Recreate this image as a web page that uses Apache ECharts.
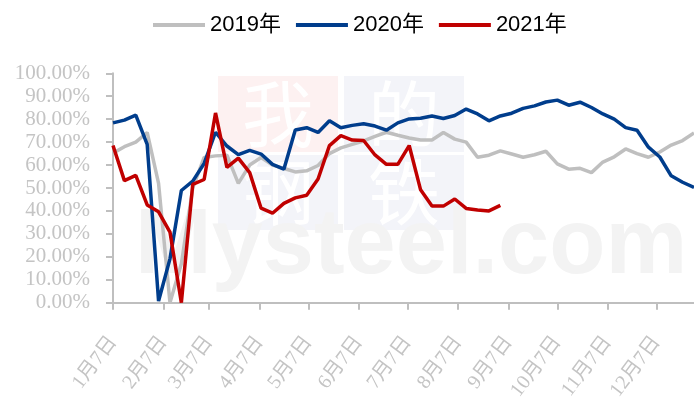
<!DOCTYPE html>
<html>
<head>
<meta charset="utf-8">
<script src="https://cdn.jsdelivr.net/npm/echarts@6/dist/echarts.min.js"></script>
<style>html,body{margin:0;padding:0;background:#fff}#c{width:694px;height:403px}</style>
</head>
<body>
<div id="c"></div>
<script>
const seriesNames = ['2019年', '2020年', '2021年'];
const tickLabels = ['1月7日','2月7日','3月7日','4月7日','5月7日','6月7日','7月7日','8月7日','9月7日','10月7日','11月7日','12月7日'];
const yTicks = [0,10,20,30,40,50,60,70,80,90,100];
// weekly values (%), first week = 1月7日
const rate2019 = [65.2,68,70,74.2,52,0,17,50,63.3,64,64.3,52,60,63.3,60,58.5,57,57.5,59.8,65,67.5,69,70.5,72.5,74.3,73,71.8,70.9,70.9,74.2,71.3,70,63.4,64.3,66.2,64.8,63.4,64.5,66,60.5,58.2,58.6,56.7,61.3,63.6,67,65,63.4,65.7,68.7,70.7,74];
const rate2020 = [78.4,79.6,81.8,69,0.7,19.1,48.9,53,60.7,74.3,68.3,64.5,66.4,64.8,60.3,58.2,75.3,76.3,74.2,79.3,76.3,77.3,78,77,75.2,78.4,80.1,80.4,81.4,80.3,81.6,84.4,82.3,79.3,81.4,82.6,84.7,85.8,87.5,88.3,86.1,87.4,85.1,82.3,80,76.3,75.2,67.8,63.5,55.3,52.5,50.2];
const rate2021 = [68.5,53.2,55.5,42.6,39.6,30.8,0,51.6,53.7,82.7,59,63,56.7,41.2,39,43.3,45.7,46.8,53.9,68.5,72.8,70.9,70.7,64.4,60.3,60.3,68.5,49.2,42.1,42.1,45.2,41.1,40.4,40,42.4];
const colors = ['#bfbfbf', '#003d8c', '#c00000'];

// daily category axis starting 1月7日
const days = [];
const start = new Date(2019, 0, 7);
for (let i = 0; i <= 357; i++) {
  const d = new Date(start.getTime() + i * 86400000);
  days.push((d.getMonth() + 1) + '月' + d.getDate() + '日');
}
const weekly = arr => arr.map((v, k) => [days[k * 7], v]);
const isTick = (idx, val) => tickLabels.indexOf(val) >= 0 && idx < 340;

const chart = echarts.init(document.getElementById('c'));
chart.setOption({
  animation: false,
  backgroundColor: '#fff',
  color: colors,
  grid: { left: 113, right: -6, top: 73.3, bottom: 94.7, containLabel: false },
  legend: {
    left: 148, top: 9,
    itemWidth: 52, itemHeight: 4, itemGap: 15,
    textStyle: { fontSize: 22, color: '#000', fontFamily: 'Liberation Sans, Noto Sans CJK SC' },
    data: seriesNames.map(n => ({ name: n, icon: 'rect' }))
  },
  graphic: [
    { type: 'rect', z: -10, shape: { x: 218, y: 76, width: 120, height: 76 }, style: { fill: '#fdf1f1' } },
    { type: 'rect', z: -10, shape: { x: 344, y: 76, width: 120, height: 76 }, style: { fill: '#f3f4f9' } },
    { type: 'rect', z: -10, shape: { x: 218, y: 155, width: 120, height: 75 }, style: { fill: '#f3f4f9' } },
    { type: 'rect', z: -10, shape: { x: 344, y: 155, width: 120, height: 75 }, style: { fill: '#f3f4f9' } },
    { type: 'text', z: -9, x: 278, y: 114, style: { text: '我', font: '72px Noto Sans CJK SC', fill: '#ffffff', align: 'center', verticalAlign: 'middle' } },
    { type: 'text', z: -9, x: 404, y: 114, style: { text: '的', font: '72px Noto Sans CJK SC', fill: '#ffffff', align: 'center', verticalAlign: 'middle' } },
    { type: 'text', z: -9, x: 278, y: 192, style: { text: '钢', font: '72px Noto Sans CJK SC', fill: '#ffffff', align: 'center', verticalAlign: 'middle' } },
    { type: 'text', z: -9, x: 404, y: 192, style: { text: '铁', font: '72px Noto Sans CJK SC', fill: '#ffffff', align: 'center', verticalAlign: 'middle' } },
    { type: 'text', z: -9, x: 135, y: 248, style: { text: 'Mysteel.com', font: 'bold 92px Liberation Sans', fill: '#f3f3f3', align: 'left', verticalAlign: 'middle' } }
  ],
  xAxis: {
    type: 'category',
    data: days,
    boundaryGap: false,
    axisLine: { lineStyle: { color: '#bfbfbf', width: 2 } },
    axisTick: { interval: isTick, length: 7, lineStyle: { color: '#bfbfbf', width: 2 } },
    axisLabel: {
      interval: isTick, rotate: 53, margin: 36, color: '#c4c4c4',
      fontSize: 20, fontFamily: 'Liberation Serif, Noto Sans CJK SC'
    },
    splitLine: { show: false }
  },
  yAxis: {
    type: 'value',
    min: yTicks[0], max: yTicks[yTicks.length - 1], interval: 10,
    axisLine: { show: true, lineStyle: { color: '#bfbfbf', width: 2 } },
    axisTick: { show: true, length: 7, lineStyle: { color: '#bfbfbf', width: 2 } },
    axisLabel: {
      margin: 23, color: '#c4c4c4', fontSize: 21, fontFamily: 'Liberation Serif',
      formatter: v => v.toFixed(2) + '%'
    },
    splitLine: { show: false }
  },
  series: [
    { name: seriesNames[0], type: 'line', data: weekly(rate2019), symbol: 'none', lineStyle: { width: 3.5, color: colors[0] }, z: 2 },
    { name: seriesNames[1], type: 'line', data: weekly(rate2020), symbol: 'none', lineStyle: { width: 3.5, color: colors[1] }, z: 3 },
    { name: seriesNames[2], type: 'line', data: weekly(rate2021), symbol: 'none', lineStyle: { width: 3.5, color: colors[2] }, z: 4 }
  ]
});
</script>
</body>
</html>
